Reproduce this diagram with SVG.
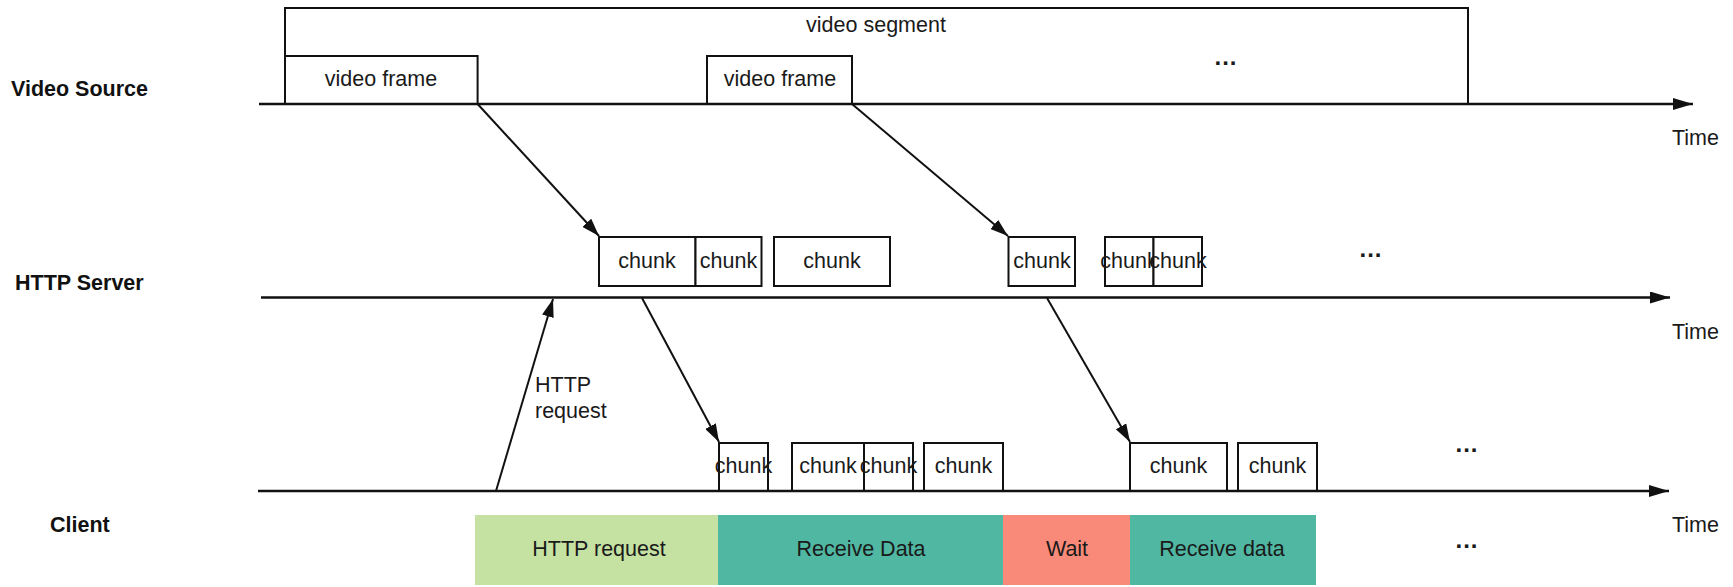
<svg xmlns="http://www.w3.org/2000/svg" width="1733" height="587" viewBox="0 0 1733 587">
<style>
text{font-family:"Liberation Sans",Arial,sans-serif;font-size:21.5px;fill:#1a1a1a;dominant-baseline:central}
.lbl{font-weight:bold;fill:#111;font-size:21.5px}
.c{text-anchor:middle}
.box{fill:#fff;stroke:#111;stroke-width:2}
.tl{stroke:#111;stroke-width:2.5;fill:none}
.ar{stroke:#111;stroke-width:2;fill:none}
.dots{font-weight:bold;text-anchor:middle;font-size:24px;letter-spacing:1px}
</style>
<defs>
<marker id="ah" viewBox="0 0 20 12" refX="20" refY="6" markerWidth="20" markerHeight="12" markerUnits="userSpaceOnUse" orient="auto">
<path d="M0,0 L20,6 L0,12 Z" fill="#111"/>
</marker>
<marker id="ahs" viewBox="0 0 18 12" refX="18" refY="6" markerWidth="18" markerHeight="12" markerUnits="userSpaceOnUse" orient="auto">
<path d="M0,0 L18,6 L0,12 Z" fill="#111"/>
</marker>
</defs>
<g id="labels">
<text class="lbl" x="11" y="89">Video Source</text>
<text class="lbl" x="15" y="283">HTTP Server</text>
<text class="lbl" x="50" y="525">Client</text>
<text x="1672" y="138">Time</text>
<text x="1672" y="332">Time</text>
<text x="1672" y="525">Time</text>
</g>
<g id="video-segment">
<path class="ar" d="M285,104 V8 H1468 V104"/>
<text class="c" x="876" y="25">video segment</text>
<text class="dots" x="1226" y="56">...</text>
</g>
<g id="video-frame-1">
<rect class="box" x="285" y="56" width="192.6" height="48"/>
<text class="c" x="381" y="79">video frame</text>
</g>
<g id="video-frame-2">
<rect class="box" x="707" y="56" width="145" height="48"/>
<text class="c" x="780" y="79">video frame</text>
</g>
<g id="server-chunks">
<rect class="box" x="599" y="237" width="96.5" height="49"/>
<text class="c" x="647" y="261">chunk</text>
<rect class="box" x="695.5" y="237" width="66" height="49"/>
<text class="c" x="728.5" y="261">chunk</text>
<rect class="box" x="774" y="237" width="116" height="49"/>
<text class="c" x="832" y="261">chunk</text>
<rect class="box" x="1008.5" y="237" width="66.5" height="49"/>
<text class="c" x="1042" y="261">chunk</text>
<rect class="box" x="1105" y="237" width="48.5" height="49"/>
<text class="c" x="1129" y="261">chunk</text>
<rect class="box" x="1153.5" y="237" width="48.5" height="49"/>
<text class="c" x="1178" y="261">chunk</text>
<text class="dots" x="1371" y="248">...</text>
</g>
<g id="client-chunks">
<rect class="box" x="719" y="443" width="49" height="48"/>
<text class="c" x="743.5" y="466">chunk</text>
<rect class="box" x="792" y="443" width="72" height="48"/>
<text class="c" x="828" y="466">chunk</text>
<rect class="box" x="864" y="443" width="49" height="48"/>
<text class="c" x="888.5" y="466">chunk</text>
<rect class="box" x="924" y="443" width="79" height="48"/>
<text class="c" x="963.5" y="466">chunk</text>
<rect class="box" x="1130" y="443" width="97" height="48"/>
<text class="c" x="1178.5" y="466">chunk</text>
<rect class="box" x="1238" y="443" width="79" height="48"/>
<text class="c" x="1277.5" y="466">chunk</text>
<text class="dots" x="1467" y="443">...</text>
</g>
<g id="client-states">
<rect x="475" y="515" width="243" height="70" fill="#c5e2a3"/>
<text class="c" x="599" y="549">HTTP request</text>
<rect x="718" y="515" width="285" height="70" fill="#50b7a2"/>
<text class="c" x="861" y="549">Receive Data</text>
<rect x="1003" y="515" width="127" height="70" fill="#f98a79"/>
<text class="c" x="1067" y="549">Wait</text>
<rect x="1130" y="515" width="186" height="70" fill="#50b7a2"/>
<text class="c" x="1222" y="549">Receive data</text>
<text class="dots" x="1467" y="539">...</text>
</g>
<g id="connectors">
<line class="tl" x1="259" y1="104" x2="1693" y2="104" marker-end="url(#ah)"/>
<line class="tl" x1="261" y1="297.5" x2="1670" y2="297.5" marker-end="url(#ah)"/>
<line class="tl" x1="258" y1="491" x2="1669" y2="491" marker-end="url(#ah)"/>
<line class="ar" x1="477.6" y1="104" x2="599" y2="236" marker-end="url(#ahs)"/>
<line class="ar" x1="852" y1="104" x2="1008" y2="236" marker-end="url(#ahs)"/>
<line class="ar" x1="642" y1="298" x2="719" y2="442" marker-end="url(#ahs)"/>
<line class="ar" x1="1047" y1="298" x2="1130" y2="442" marker-end="url(#ahs)"/>
<line class="ar" x1="496" y1="491" x2="553" y2="299" marker-end="url(#ahs)"/>
<text x="535" y="385">HTTP</text>
<text x="535" y="411">request</text>
</g>
</svg>
